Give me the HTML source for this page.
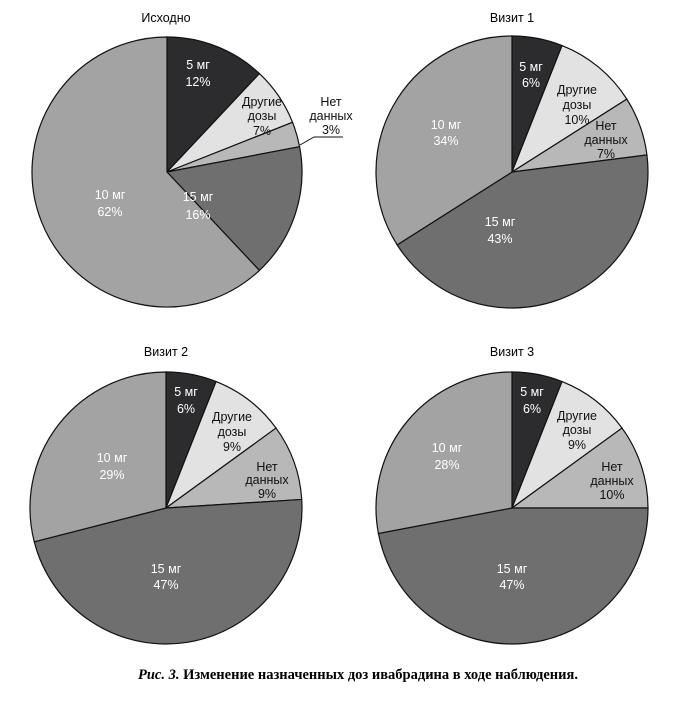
<!DOCTYPE html>
<html><head><meta charset="utf-8"><style>
body{margin:0;background:#fff;width:688px;height:697px;overflow:hidden}
svg text{font-family:"Liberation Sans",sans-serif;font-size:12.5px;text-anchor:middle;dominant-baseline:central}
</style></head><body>
<svg id="s" width="688" height="697" xmlns="http://www.w3.org/2000/svg">
<text x="166" y="18" font-size="13">Исходно</text>
<text x="512" y="18" font-size="13">Визит 1</text>
<text x="166" y="352" font-size="13">Визит 2</text>
<text x="512" y="352" font-size="13">Визит 3</text>
<text x="358" y="675" style="font-family:'Liberation Serif',serif;font-size:14.5px;font-weight:bold" textLength="440" lengthAdjust="spacingAndGlyphs"><tspan font-style="italic">Рис. 3.</tspan> Изменение назначенных доз ивабрадина в ходе наблюдения.</text>
</svg>
<script>
var s=document.getElementById('s'),NS="http://www.w3.org/2000/svg";
var cols=["#2c2c2f","#e2e2e2","#b8b8b8","#6f6f6f","#a3a3a3"];
function pie(cx,cy,r,v){var a=0;var g=document.createElementNS(NS,'g');
v.forEach(function(p,i){var a0=a*Math.PI*2/100,a1=(a+p)*Math.PI*2/100;a+=p;
var x0=cx+r*Math.sin(a0),y0=cy-r*Math.cos(a0),x1=cx+r*Math.sin(a1),y1=cy-r*Math.cos(a1);
var e=document.createElementNS(NS,'path');
e.setAttribute('d','M'+cx+','+cy+'L'+x0+','+y0+'A'+r+','+r+' 0 '+(p>50?1:0)+' 1 '+x1+','+y1+'Z');
e.setAttribute('fill',cols[i]);e.setAttribute('stroke','#111');e.setAttribute('stroke-width','1.2');g.appendChild(e);});
s.insertBefore(g,s.firstChild);}
pie(167,172,135,[12,7,3,16,62]);
pie(512,172,136,[6,10,7,43,34]);
pie(166,508,136,[6,9,9,47,29]);
pie(512,508,136,[6,9,10,47,28]);
function t(x,y,str,c){var e=document.createElementNS(NS,'text');e.setAttribute('x',x);e.setAttribute('y',y);e.setAttribute('fill',c||'#111');e.textContent=str;s.appendChild(e);}
var W='#fff';
t(198,65,'5 мг',W);t(198,82,'12%',W);t(262,102,'Другие');t(262,116,'дозы');t(262,131,'7%');
t(331,102,'Нет');t(331,116,'данных');t(331,130,'3%');
t(198,197,'15 мг',W);t(198,215,'16%',W);t(110,195,'10 мг',W);t(110,212,'62%',W);
var l=document.createElementNS(NS,'path');l.setAttribute('d','M300,145L314,137L343,137');l.setAttribute('stroke','#111');l.setAttribute('fill','none');s.appendChild(l);
t(531,67,'5 мг',W);t(531,83,'6%',W);t(577,90,'Другие');t(577,105,'дозы');t(577,120,'10%');
t(606,126,'Нет');t(606,140,'данных');t(606,154,'7%');t(500,222,'15 мг',W);t(500,239,'43%',W);t(446,125,'10 мг',W);t(446,141,'34%',W);
t(186,392,'5 мг',W);t(186,409,'6%',W);t(232,417,'Другие');t(232,432,'дозы');t(232,447,'9%');
t(267,467,'Нет');t(267,480,'данных');t(267,494,'9%');t(166,569,'15 мг',W);t(166,585,'47%',W);t(112,458,'10 мг',W);t(112,475,'29%',W);
t(532,392,'5 мг',W);t(532,409,'6%',W);t(577,416,'Другие');t(577,430,'дозы');t(577,445,'9%');
t(612,467,'Нет');t(612,481,'данных');t(612,495,'10%');t(512,569,'15 мг',W);t(512,585,'47%',W);t(447,448,'10 мг',W);t(447,465,'28%',W);
</script>
</body></html>
